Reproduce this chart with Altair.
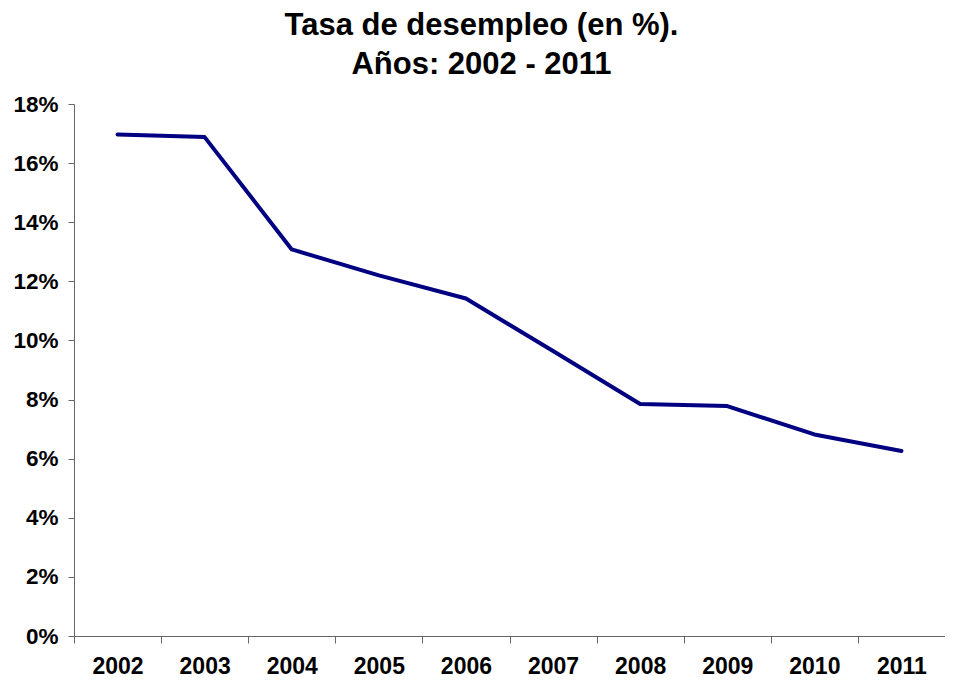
import altair as alt
import pandas as pd

years = ["2002", "2003", "2004", "2005", "2006", "2007", "2008", "2009", "2010", "2011"]
tasa = [16.97, 16.88, 13.08, 12.20, 11.42, 9.64, 7.85, 7.78, 6.82, 6.26]
y_ticks = [0, 2, 4, 6, 8, 10, 12, 14, 16, 18]

df = pd.DataFrame({"anio": years, "tasa": tasa})

FONT = "Liberation Sans"

chart = (
    alt.Chart(df)
    .mark_line(color="#000080", strokeWidth=4, strokeJoin="round", strokeCap="round")
    .encode(
        x=alt.X(
            "anio:N",
            sort=years,
            title=None,
            scale=alt.Scale(paddingInner=0, paddingOuter=0),
            axis=alt.Axis(
                tickBand="extent",
                labelAngle=0,
                labelFont=FONT,
                labelFontSize=23,
                labelFontWeight="bold",
                labelColor="black",
                labelPadding=12,
                tickSize=7,
                domainColor="#666666",
                tickColor="#666666",
                grid=False,
            ),
        ),
        y=alt.Y(
            "tasa:Q",
            title=None,
            scale=alt.Scale(domain=[0, 18], nice=False, zero=True),
            axis=alt.Axis(
                values=y_ticks,
                labelExpr="datum.value + '%'",
                labelFont=FONT,
                labelFontSize=22.5,
                labelFontWeight="bold",
                labelColor="black",
                labelPadding=10,
                tickSize=6,
                domainColor="#666666",
                tickColor="#666666",
                grid=False,
            ),
        ),
    )
    .properties(
        width=871,
        height=532,
        background="white",
        view=alt.ViewBackground(stroke="white", strokeOpacity=0, strokeWidth=0),
        autosize=alt.AutoSizeParams(type="none"),
        padding={"left": 66, "top": 96, "right": 0, "bottom": 42},
        title=alt.TitleParams(
            text=["Tasa de desempleo (en %).", "Años: 2002 - 2011"],
            font=FONT,
            fontSize=31,
            fontWeight="bold",
            color="black",
            lineHeight=39,
            anchor="middle",
            dx=-28,
            offset=12,
        ),
    )
    .configure_view(strokeWidth=0, stroke="white", strokeOpacity=0)
)

chart.save("out.html", embed_options={"renderer": "svg", "actions": False})
